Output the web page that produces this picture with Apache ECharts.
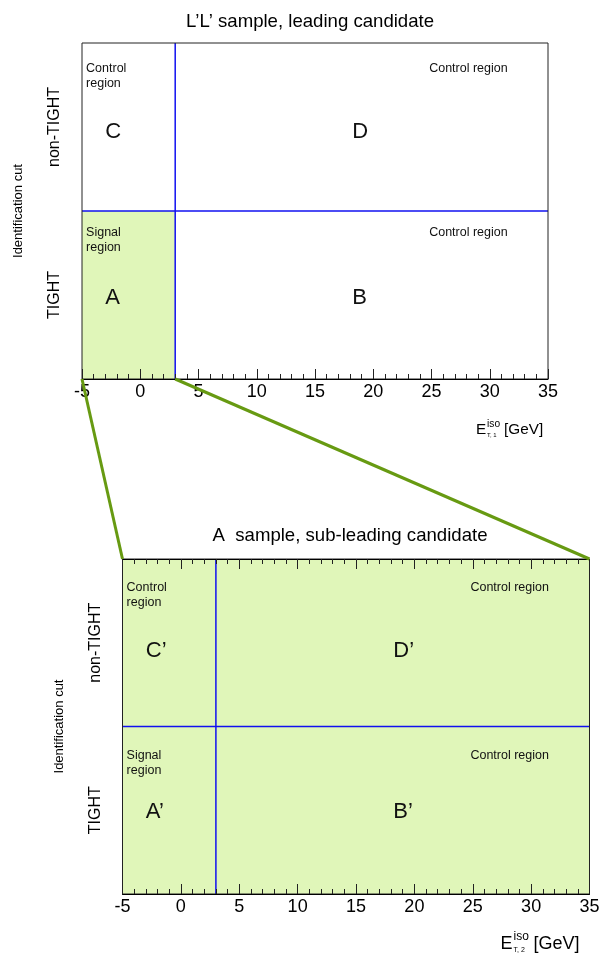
<!DOCTYPE html>
<html>
<head>
<meta charset="utf-8">
<script src="https://cdn.jsdelivr.net/npm/echarts@6/dist/echarts.min.js"></script>
<style>
  html, body { margin: 0; padding: 0; background: #fff; }
  #chart { width: 602px; height: 956px; }
</style>
</head>
<body>
<div id="chart"></div>
<script>
// ABCD sideband layout: leading candidate (top) and sub-leading candidate (bottom)

const panelTitles = ['L\u2019L\u2019 sample, leading candidate', 'A  sample, sub-leading candidate'];
const idCategories = ['TIGHT', 'non-TIGHT'];
const idAxisName = 'Identification cut';
const isoMin = -5;
const isoMax = 35;
const isoStep = 5;
const isoCut = 3;   // GeV, isolation cut
const idCut = 1;    // boundary TIGHT / non-TIGHT on the 0..2 axis
const isoSubscripts = ['T, 1', 'T, 2'];

// region letters
const topLetters = ['C', 'D', 'A', 'B'];
const subLetters = ['C\u2019', 'D\u2019', 'A\u2019', 'B\u2019'];
const letterX = [-3, 18.2, -3, 18.2];
const topLetterY = [1.47, 1.47, 0.48, 0.48];
const subLetterY = [1.45, 1.45, 0.49, 0.49];

// region notes
const regionNotes = ['Control\nregion', 'Control region', 'Signal\nregion', 'Control region'];
const noteX = [-4.65, 24.8, -4.65, 24.8];
const topNoteY = [1.893, 1.893, 0.918, 0.918];
const subNoteY = [1.875, 1.875, 0.87, 0.87];

// shaded (selected) region per panel: [x0, x1, y0, y1]
const topShade = [[isoMin, isoCut, 0, idCut]];
const subShade = [[isoMin, isoMax, 0, 2]];

// cut lines: [x0, y0, x1, y1]
const cutLines = [[isoCut, 0, isoCut, 2], [isoMin, idCut, isoMax, idCut]];

const FONT = 'Liberation Sans, Helvetica, Arial, sans-serif';
const SHADE = '#e0f6b9';
const LINK = '#679a12';

const chart = echarts.init(document.getElementById('chart'));

function xAxisFor(grid, position, showLabels) {
    return {
        type: 'value', gridIndex: grid, position: position,
        min: isoMin, max: isoMax, interval: isoStep, z: 10,
        axisLine: { show: true, onZero: false, lineStyle: { color: '#000', width: 1 } },
        axisTick: { show: true, inside: true, length: 10, lineStyle: { color: '#222' } },
        minorTick: { show: true, splitNumber: 5, length: 5, lineStyle: { color: '#222' } },
        splitLine: { show: false },
        axisLabel: { show: showLabels, fontSize: 18, color: '#000', fontFamily: FONT, margin: 4 }
    };
}

function yAxesFor(grid) {
    return [
        { type: 'value', gridIndex: grid, min: 0, max: 2, show: false },
        {
            type: 'category', gridIndex: grid, position: 'left', data: idCategories,
            axisLine: { show: false }, axisTick: { show: false }, splitLine: { show: false },
            axisLabel: { rotate: 90, fontSize: 16, color: '#000', fontFamily: FONT, margin: 19 },
            name: idAxisName, nameLocation: 'middle', nameRotate: 90, nameGap: 57,
            nameTextStyle: { fontSize: 13, color: '#000', fontFamily: FONT }
        }
    ];
}

function shadeSeries(xi, yi, boxes) {
    return {
        type: 'custom', xAxisIndex: xi, yAxisIndex: yi, silent: true, z: 1,
        data: boxes,
        renderItem: (params, api) => {
            const a = api.coord([api.value(0), api.value(3)]);
            const b = api.coord([api.value(1), api.value(2)]);
            return { type: 'rect', shape: { x: a[0], y: a[1], width: b[0] - a[0], height: b[1] - a[1] }, style: { fill: SHADE } };
        }
    };
}

function cutSeries(xi, yi) {
    return {
        type: 'custom', xAxisIndex: xi, yAxisIndex: yi, silent: true, z: 5,
        data: cutLines,
        renderItem: (params, api) => {
            const a = api.coord([api.value(0), api.value(1)]);
            const b = api.coord([api.value(2), api.value(3)]);
            return { type: 'line', shape: { x1: a[0], y1: a[1], x2: b[0], y2: b[1] }, style: { stroke: '#1010f0', lineWidth: 1.5 } };
        }
    };
}

function textSeries(xi, yi, xs, ys, texts, size, lineHeight, vAlign) {
    return {
        type: 'custom', xAxisIndex: xi, yAxisIndex: yi, silent: true, z: 6,
        data: xs.map((x, i) => [x, ys[i]]),
        renderItem: (params, api) => {
            const p = api.coord([api.value(0), api.value(1)]);
            return {
                type: 'text', x: p[0], y: p[1],
                style: {
                    text: texts[params.dataIndex], fontSize: size, lineHeight: lineHeight,
                    fontFamily: FONT, fill: '#111', align: 'left', verticalAlign: vAlign
                }
            };
        }
    };
}

const option = {
    animation: false,
    backgroundColor: '#fff',
    title: [
        { text: panelTitles[0], left: 305, top: 7, textAlign: 'center',
          textStyle: { fontSize: 18.6, fontWeight: 'normal', color: '#000', fontFamily: FONT } },
        { text: panelTitles[1], left: 345, top: 521, textAlign: 'center',
          textStyle: { fontSize: 18.6, fontWeight: 'normal', color: '#000', fontFamily: FONT } }
    ],
    grid: [
        { left: 82, top: 43, width: 466, height: 336, show: true, z: 10, borderColor: '#222', borderWidth: 1,
          backgroundColor: 'transparent', containLabel: false, outerBoundsMode: 'none' },
        { left: 122.5, top: 559, width: 467, height: 335, show: true, z: 10, borderColor: '#222', borderWidth: 1,
          backgroundColor: 'transparent', containLabel: false, outerBoundsMode: 'none' }
    ],
    xAxis: [
        xAxisFor(0, 'bottom', true),
        xAxisFor(1, 'bottom', true),
        xAxisFor(1, 'top', false)
    ],
    yAxis: [].concat(yAxesFor(0), yAxesFor(1)),
    series: [
        shadeSeries(0, 0, topShade),
        shadeSeries(1, 2, subShade),
        cutSeries(0, 0),
        cutSeries(1, 2),
        textSeries(0, 0, letterX, topLetterY, topLetters, 22, 22, 'middle'),
        textSeries(1, 2, letterX, subLetterY, subLetters, 22, 22, 'middle'),
        textSeries(0, 0, noteX, topNoteY, regionNotes, 12.5, 15, 'top'),
        textSeries(1, 2, noteX, subNoteY, regionNotes, 12.5, 15, 'top')
    ]
};

chart.setOption(option);

// links from the selected box of the top panel to the bottom panel, plus the E_T^iso axis titles
function px(xi, yi, point) {
    return chart.convertToPixel({ xAxisIndex: xi, yAxisIndex: yi }, point);
}

const topLeft = px(0, 0, [isoMin, 0]);
const topCut = px(0, 0, [isoCut, 0]);
const subLeft = px(1, 2, [isoMin, 2]);
const subRight = px(1, 2, [isoMax, 2]);
const topEnd = px(0, 0, [isoMax, 0]);
const subEnd = px(1, 2, [isoMax, 0]);

// s: font scale of the title
function isoTitle(anchor, sub, s, dx, dy) {
    const st = (t, f) => ({ text: t, fontSize: f * s, fontFamily: FONT, fill: '#000', verticalAlign: 'middle', align: 'left' });
    return {
        type: 'group', x: anchor[0] - dx, y: anchor[1] + dy, silent: true,
        children: [
            { type: 'text', x: 0, y: 0, style: st('E', 18) },
            { type: 'text', x: 13 * s, y: -7 * s, style: st('iso', 12) },
            { type: 'text', x: 13 * s, y: 6 * s, style: st(sub, 7) },
            { type: 'text', x: 33 * s, y: 0, style: st('[GeV]', 18) }
        ]
    };
}

chart.setOption({
    graphic: [
        { type: 'line', z: 100, silent: true, shape: { x1: topLeft[0], y1: topLeft[1], x2: subLeft[0], y2: subLeft[1] },
          style: { stroke: LINK, lineWidth: 3 } },
        { type: 'line', z: 100, silent: true, shape: { x1: topCut[0], y1: topCut[1], x2: subRight[0], y2: subRight[1] },
          style: { stroke: LINK, lineWidth: 3 } },
        isoTitle(topEnd, isoSubscripts[0], 0.85, 72, 51),
        isoTitle(subEnd, isoSubscripts[1], 1, 89, 50)
    ]
});
</script>
</body>
</html>
